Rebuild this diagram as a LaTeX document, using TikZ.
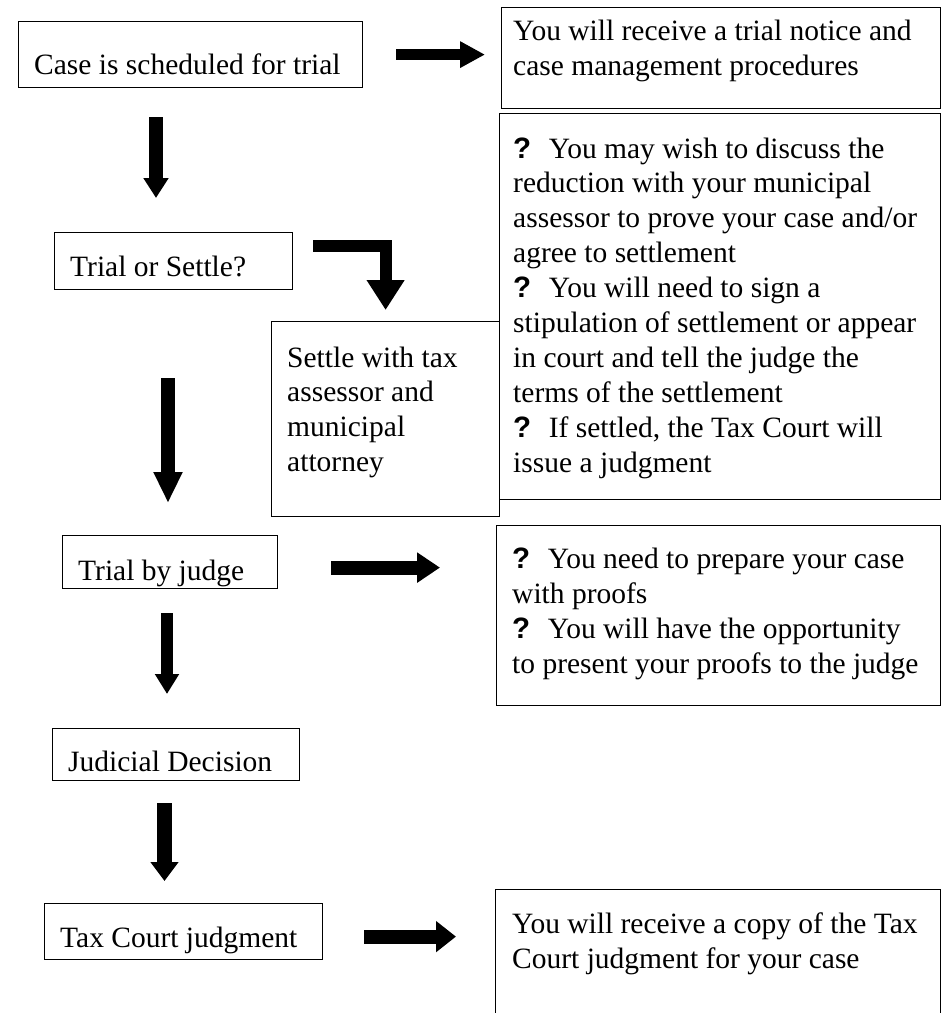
\documentclass[tikz,border=0pt]{standalone}
\usepackage{fontspec}
\setmainfont{Liberation Serif}
\newfontfamily\qfont{Liberation Sans}
\usetikzlibrary{arrows.meta}

\newcommand{\qm}{{\qfont\bfseries ?}\hspace{0.6em}}

\tikzset{
    box/.style={draw, line width=1.2pt, inner sep=0pt, anchor=north west},
    txt/.style={anchor=base west, inner sep=0pt, font=\fontsize{29.5}{35}\selectfont},
    fat/.style n args={3}{line width=#1pt, -{Triangle[length=#2pt, width=#3pt]}}
}

\begin{document}
\begin{tikzpicture}[x=1pt, y=-1pt]
    \clip (0,0) rectangle (942,1013);

    % Boxes
    \node[box, minimum width=344pt, minimum height=66pt] (sched) at (18,21) {};
    \node[box, minimum width=439pt, minimum height=101pt] (notice) at (501,7) {};
    \node[box, minimum width=238pt, minimum height=57pt] (choice) at (54,232) {};
    \node[box, minimum width=228pt, minimum height=195pt] (settle) at (271,321) {};
    \node[box, minimum width=441pt, minimum height=386pt] (advice) at (499,113) {};
    \node[box, minimum width=215pt, minimum height=53pt] (judge) at (62,535) {};
    \node[box, minimum width=444pt, minimum height=180pt] (proofs) at (496,525) {};
    \node[box, minimum width=247pt, minimum height=52pt] (decision) at (52,728) {};
    \node[box, minimum width=278pt, minimum height=56pt] (judgment) at (44,903) {};
    \node[box, minimum width=445pt, minimum height=140pt] (copy) at (495,889) {};

    % Texts
    \node[txt] (sched-t) at (34,74) {Case is scheduled for trial};
    \foreach \row [count=\i from 0] in {You will receive a trial notice and, case management procedures}
        \node[txt] (notice-\i) at (513,40+35*\i) {\row};
    \node[txt] (choice-t) at (70,276) {Trial or Settle?};
    \foreach \row [count=\i from 0] in {Settle with tax, assessor and, municipal, attorney}
        \node[txt] (settle-\i) at (287,367+34.9*\i) {\row};
    \foreach \row [count=\i from 0] in {{\qm You may wish to discuss the}, reduction with your municipal,
        {assessor to prove your case and/or}, agree to settlement, {\qm You will need to sign a},
        stipulation of settlement or appear, in court and tell the judge the, terms of the settlement,
        {\qm If settled, the Tax Court will}, issue a judgment}
        \node[txt] (advice-\i) at (513,158+34.9*\i) {\row};
    \node[txt] (judge-t) at (78,580) {Trial by judge};
    \foreach \row [count=\i from 0] in {{\qm You need to prepare your case}, with proofs,
        {\qm You will have the opportunity}, to present your proofs to the judge}
        \node[txt] (proofs-\i) at (512,568+35*\i) {\row};
    \node[txt] (decision-t) at (68,771) {Judicial Decision};
    \node[txt] (judgment-t) at (60,947) {Tax Court judgment};
    \foreach \row [count=\i from 0] in {You will receive a copy of the Tax, Court judgment for your case}
        \node[txt] (copy-\i) at (512,933+35*\i) {\row};

    % Arrows
    \draw[fat={11}{25}{25}, shorten <=33pt, shorten >=16pt] (sched.east) -- (sched.east -| notice.west);

    \coordinate (s1) at ([xshift=138pt]sched.south west);
    \draw[fat={14}{20}{24}, shorten <=29pt, shorten >=34pt] (s1) -- (s1 |- choice.north);

    \coordinate (c1) at ([yshift=15.5pt]choice.east);
    \draw[fat={12}{30}{36}, shorten <=20pt, shorten >=11pt] (c1) -| (settle.north);

    \coordinate (c2) at ([xshift=114pt]choice.south west);
    \draw[fat={14}{31}{27}, shorten <=88pt, shorten >=32pt] (c2) -- (c2 |- judge.north);

    \coordinate (j1) at ([yshift=-5.5pt]judge.east);
    \draw[fat={14}{23}{29}, shorten <=53pt, shorten >=56pt] (j1) -- (j1 -| proofs.west);

    \coordinate (j2) at ([xshift=105pt]judge.south west);
    \draw[fat={12}{20}{23}, shorten <=24pt, shorten >=34pt] (j2) -- (j2 |- decision.north);

    \coordinate (d1) at ([xshift=112.5pt]decision.south west);
    \draw[fat={15}{19}{27}, shorten <=22pt, shorten >=22pt] (d1) -- (d1 |- judgment.north);

    \coordinate (t1) at ([yshift=-5pt]judgment.east);
    \draw[fat={14}{20}{30}, shorten <=41pt, shorten >=39pt] (t1) -- (t1 -| copy.west);
\end{tikzpicture}
\end{document}
